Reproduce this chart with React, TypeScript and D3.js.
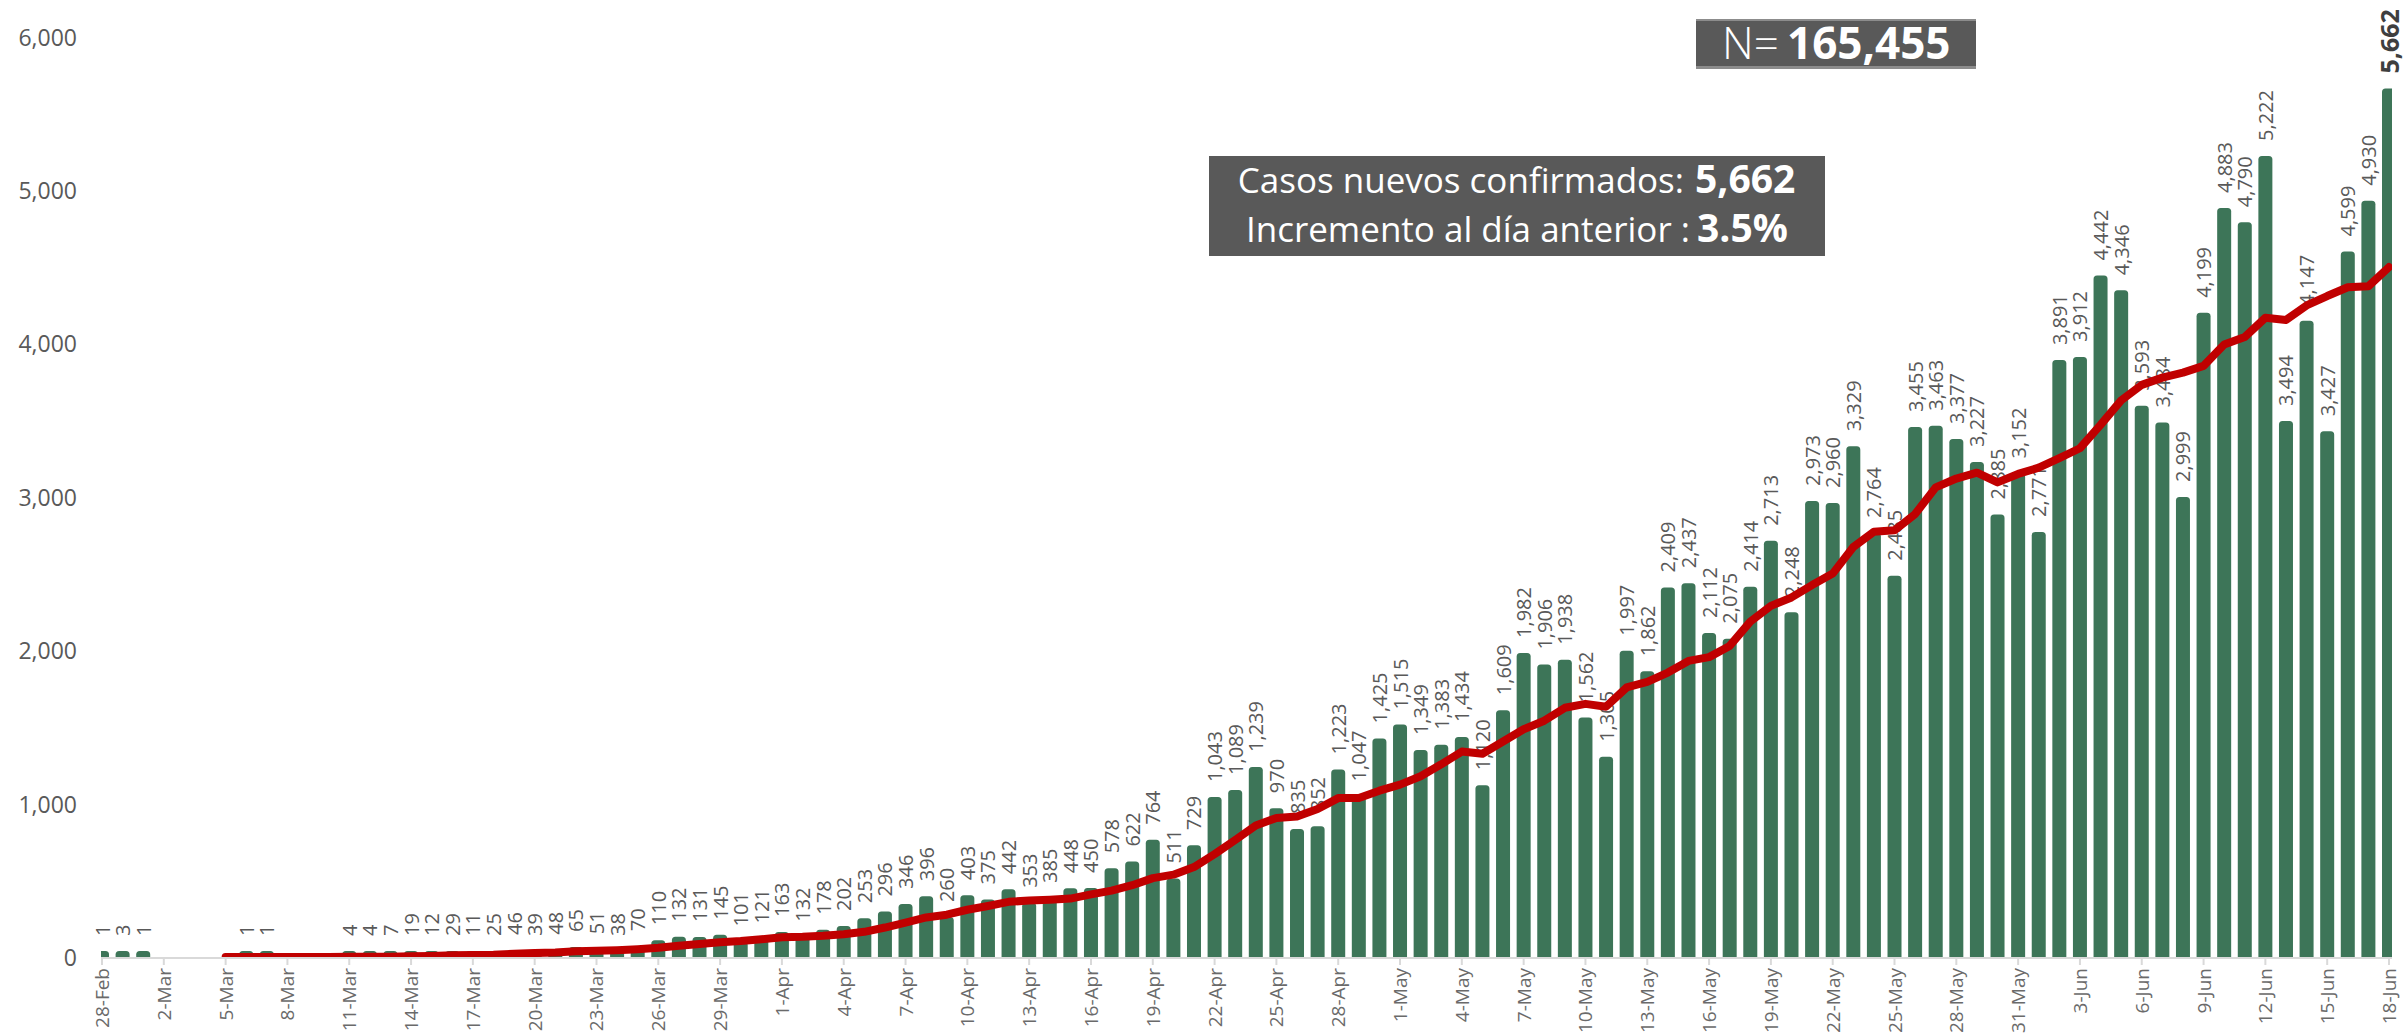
import React from "react";
import * as d3 from "d3";

// ---- DATA ----
const startDate = new Date(2020, 1, 28);
const endDate = new Date(2020, 5, 19);
const fmtDay = d3.timeFormat("%-d-%b");
const categories: string[] = d3.timeDay.range(startDate, endDate).map((d) => fmtDay(d));

// Casos nuevos confirmados por día (28-Feb ... 18-Jun)
const casos: number[] = [
  1, 3, 1, 0, 0, 0, 0, 1, 1, 0, 0, 0,
  4, 4, 7, 19, 12, 29, 11, 25, 46, 39, 48, 65, 51, 38, 70, 110, 132, 131, 145, 101, 121,
  163, 132, 178, 202, 253, 296, 346, 396, 260, 403, 375, 442, 353, 385, 448, 450, 578, 622, 764, 511,
  729, 1043, 1089, 1239, 970, 835, 852, 1223, 1047, 1425,
  1515, 1349, 1383, 1434, 1120, 1609, 1982, 1906, 1938, 1562, 1305, 1997, 1862, 2409, 2437, 2112, 2075,
  2414, 2713, 2248, 2973, 2960, 3329, 2764, 2485, 3455, 3463, 3377, 3227, 2885, 3152,
  2771, 3891, 3912, 4442, 4346, 3593, 3484, 2999, 4199, 4883, 4790, 5222, 3494, 4147, 3427, 4599, 4930, 5662,
];

// Red trend line, starts on 5-Mar
const tendencia: (number | null)[] = [
  null, null, null, null, null, null,
  0.7, 0.7, 0.4, 0.3, 0.3, 0.3, 0.9, 1.4, 2.3, 4.9, 6.6, 10.7, 12.3, 15.3, 21.3, 25.9, 30, 37.6, 40.7,
  44.6, 51, 60.1, 73.4, 85.3, 96.7, 103.9, 115.7, 129, 132.1, 138.7, 148.9, 164.3, 192.1, 224.3, 257.6,
  275.9, 308, 332.7, 359.7, 367.9, 373.4, 380.9, 408, 433, 468.3, 514.3, 536.9, 586, 671, 762.3, 856.7,
  906.4, 916.6, 965.3, 1035.9, 1036.4, 1084.4, 1123.9, 1178, 1256.3, 1339.4, 1324.7, 1405, 1484.6,
  1540.4, 1624.6, 1650.1, 1631.7, 1757, 1793.1, 1854.1, 1930, 1954.9, 2028.1, 2186.6, 2288.9, 2344,
  2424.6, 2499.3, 2673.1, 2771.6, 2781.7, 2887.7, 3061.3, 3119, 3157.1, 3093.7, 3149.1, 3190, 3252.3,
  3316.4, 3468.6, 3628.4, 3729.6, 3777, 3809.6, 3853.6, 3992.3, 4042, 4167.1, 4153, 4247.7, 4308.9,
  4366, 4372.7, 4497.3,
];

const yTicks: number[] = [0, 1000, 2000, 3000, 4000, 5000, 6000];
const totalN = "165,455";
const nuevos = "5,662";
const incremento = "3.5%";

// ---- LAYOUT ----
const W = 2405;
const H = 1035;
const FONT = "'Open Sans', 'Noto Sans', sans-serif";
const GREEN = "#3D7558";
const RED = "#C00000";
const GRAY = "#595959";

export default function App() {
  const x = d3.scalePoint<string>().domain(categories).range([102, 2389]);
  const y = d3.scaleLinear().domain([0, 6000]).range([957, 36.6]);
  const barW = 14;
  const plotLeft = 101;
  const plotRight = 2392;
  const y0 = y(0);
  const minBarH = 6;

  const tickCats = categories.filter((_, i) => i % 3 === 0);

  const line = d3
    .line<{ c: string; v: number | null }>()
    .defined((d) => d.v !== null)
    .x((d) => x(d.c) as number)
    .y((d) => y(d.v as number));
  const lineData = categories.map((c, i) => ({ c, v: tendencia[i] }));

  const barTop = (v: number) => Math.min(y(v), y0 - minBarH);

  return (
    <svg
      width={W}
      height={H}
      style={{ position: "absolute", left: 0, top: 0, background: "#fff" }}
      fontFamily={FONT}
    >
      <defs>
        <clipPath id="plot">
          <rect x={plotLeft} y={0} width={plotRight - plotLeft} height={y0} />
        </clipPath>
      </defs>

      {/* Y axis labels */}
      {yTicks.map((t) => (
        <text
          key={t}
          x={77}
          y={y(t)}
          textAnchor="end"
          dominantBaseline="central"
          fontSize={23}
          fill={GRAY}
        >
          {d3.format(",")(t)}
        </text>
      ))}

      {/* bars */}
      <g clipPath="url(#plot)">
        {categories.map((c, i) =>
          casos[i] > 0 ? (
            <rect
              key={c}
              x={(x(c) as number) - barW / 2}
              y={barTop(casos[i])}
              width={barW}
              height={y0 - barTop(casos[i]) + 6}
              rx={3.5}
              fill={GREEN}
            />
          ) : null
        )}
      </g>

      {/* X axis */}
      <line x1={plotLeft} x2={plotRight} y1={y0 + 1} y2={y0 + 1} stroke="#D9D9D9" strokeWidth={2} />
      {tickCats.map((c) => (
        <g key={c} transform={`translate(${x(c)},0)`}>
          <line y1={y0} y2={y0 + 8} stroke="#D9D9D9" strokeWidth={2} />
          <text
            transform={`translate(0,${y0 + 11}) rotate(-90)`}
            textAnchor="end"
            dominantBaseline="central"
            fontSize={19}
            fill="#6A6A6A"
          >
            {c}
          </text>
        </g>
      ))}

      {/* bar value labels */}
      {categories.map((c, i) => {
        if (casos[i] <= 0) return null;
        const last = i === categories.length - 1;
        return (
          <text
            key={"l" + c}
            transform={`translate(${x(c)},${barTop(casos[i]) - 15}) rotate(-90)`}
            textAnchor="start"
            dominantBaseline="central"
            fontSize={last ? 25 : 20}
            fontWeight={last ? 700 : 400}
            fill={last ? "#3F3F3F" : GRAY}
          >
            {d3.format(",")(casos[i])}
          </text>
        );
      })}

      {/* trend line */}
      <g clipPath="url(#plot)">
        <path
          d={line(lineData) || ""}
          fill="none"
          stroke={RED}
          strokeWidth={8}
          strokeLinejoin="round"
          strokeLinecap="round"
        />
      </g>

      {/* N box */}
      <rect x={1696} y={20} width={280} height={49} fill={GRAY} />
      <rect x={1696} y={19} width={280} height={2} fill="#8C8C8C" />
      <rect x={1696} y={66} width={280} height={3} fill="#8C8C8C" />
      <text x={1722} y={59} fontSize={44} fontWeight={300} fill="#fff">
        N=
      </text>
      <text x={1787} y={59} fontSize={44} fontWeight={700} fill="#fff">
        {totalN}
      </text>

      {/* Casos nuevos box */}
      <rect x={1209} y={156} width={616} height={100} fill={GRAY} />
      <text x={1684} y={193} textAnchor="end" fontSize={35} fontWeight={500} fill="#fff">
        Casos nuevos confirmados:
      </text>
      <text x={1695} y={193} fontSize={39} fontWeight={700} fill="#fff">
        {nuevos}
      </text>
      <text x={1690} y={242} textAnchor="end" fontSize={35} fontWeight={500} fill="#fff">
        Incremento al día anterior :
      </text>
      <text x={1697} y={242} fontSize={39} fontWeight={700} fill="#fff">
        {incremento}
      </text>
    </svg>
  );
}
